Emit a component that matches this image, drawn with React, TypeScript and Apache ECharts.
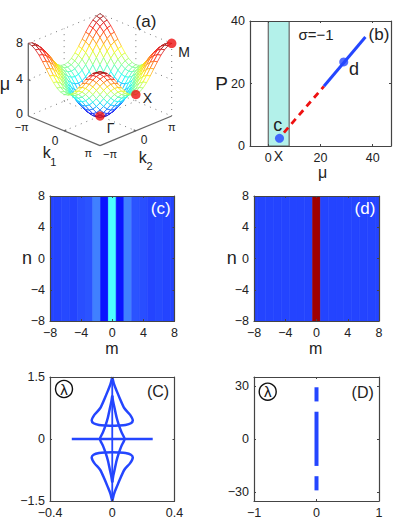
import React, { useEffect, useRef } from "react";
import * as echarts from "echarts";

const FONT = "Liberation Sans";
const AXIS = "#444444";
const TEXT = "#222222";
const BLUE = "#2446ff";

// (a) surface: height along one k direction from -pi to pi; surface height = row + column
const kProfile = [4, 3.9, 3.62, 3.18, 2.62, 2, 1.38, 0.82, 0.38, 0.1, 0, 0.1, 0.38, 0.82, 1.38, 2, 2.62, 3.18, 3.62, 3.9, 4];
// red points: k1/pi, k2/pi, mu
const pointGamma = [0, 0, 0];
const pointX = [1, 0, 4];
const pointM = [1, 1, 8];

// (b)
const bandRange = [0, 8];
const unstable = [[6, 4.3], [21.3, 19.1]];
const stable = [[21.3, 19.1], [37.2, 34.9]];
const pointC = [4.3, 2.45];
const pointD = [28.9, 26.9];

// (c), (d) amplitude per column m
const mValues = [-8, -7, -6, -5, -4, -3, -2, -1, 0, 1, 2, 3, 4, 5, 6, 7, 8];
const cAmplitude = [0.08, 0.08, 0.09, 0.08, 0.1, 0.11, 0.2, 0, 0.5, 0, 0.2, 0.11, 0.1, 0.08, 0.09, 0.08, 0.08];
const dAmplitude = [0.08, 0.08, 0.08, 0.08, 0.08, 0.08, 0.08, 0.08, 1, 0.08, 0.08, 0.08, 0.08, 0.08, 0.08, 0.08, 0.08];
const ampStops: [number, number[]][] = [
  [0, [10, 20, 255]], [0.08, [36, 68, 255]], [0.2, [64, 128, 255]], [0.5, [77, 255, 255]],
  [0.625, [255, 255, 0]], [0.8, [255, 0, 0]], [1, [160, 0, 0]],
];

// (C) spectrum, first quadrant branches [re, im]
const outerBranch = [[0, 1.5], [0.012, 1.32], [0.031, 1.14], [0.05, 0.97], [0.078, 0.744], [0.115, 0.583], [0.132, 0.446], [0.12, 0.38], [0.085, 0.34], [0.04, 0.326], [0, 0.32]];
const innerBranch = [[0, 1.05], [0.006, 0.9], [0.015, 0.744], [0.028, 0.52], [0.042, 0.343], [0.06, 0.16], [0.08, 0]];
const realLine = [[-0.26, 0], [0.26, 0]];
const imagLine = [[0, -1.5], [0, 1.5]];

// (D) spectrum segments on the imaginary axis
const dSegments = [[[0, 29.2], [0, 21.2]], [[0, 15.4], [0, -15.2]], [[0, -21], [0, -29]]];

const jet = (t: number) => {
  const c = (v: number) => Math.round(255 * Math.max(0, Math.min(1, v)));
  return `rgb(${c(1.5 - Math.abs(4 * t - 3))},${c(1.5 - Math.abs(4 * t - 2))},${c(1.5 - Math.abs(4 * t - 1))})`;
};
const ampColor = (a: number) => {
  for (let i = 1; i < ampStops.length; i++) {
    const [t0, c0] = ampStops[i - 1];
    const [t1, c1] = ampStops[i];
    if (a <= t1) {
      const f = (a - t0) / (t1 - t0);
      return `rgb(${c0.map((x, k) => Math.round(x + (c1[k] - x) * f)).join(",")})`;
    }
  }
  return "#a00000";
};

const minus = (v: number) => String(v).replace("-", "−");

// oblique view of panel (a): u along k1, v along k2
const SKEW = 3.267;
const proj = (u: number, v: number, mu: number) => [u + v, mu + (v - u) * SKEW];
const fromK = (p: number[]) => proj((p[0] + 1) / 2, (p[1] + 1) / 2, p[2]);

const N = kProfile.length - 1;
const cells: number[][] = [];
for (let i = 0; i < N; i++) for (let j = 0; j < N; j++) cells.push([i, j]);
cells.sort((a, b) => a[0] - a[1] - (b[0] - b[1]));

// frame of panel (a): [u0,v0,mu0,u1,v1,mu1]
const frameDotted = [
  [0, 0, 0, 0, 1, 0], [0, 1, 0, 1, 1, 0], [0, 1, 0, 0, 1, 8], [1, 1, 0, 1, 1, 8],
  [0, 0, 8, 0, 1, 8], [0, 1, 8, 1, 1, 8], [0, 0, 4, 0, 1, 4], [0, 1, 4, 1, 1, 4],
  [0.5, 0, 0, 0.5, 1, 0], [0, 0.5, 0, 1, 0.5, 0], [0, 0.5, 0, 0, 0.5, 8], [0.5, 1, 0, 0.5, 1, 8],
];
const frameSolid = [
  [0, 0, 0, 1, 0, 0], [1, 0, 0, 1, 1, 0], [0, 0, 0, 0, 0, 8],
  [0.5, 0, 0, 0.5, 0.03, 0], [1, 0.5, 0, 0.97, 0.5, 0], [0, 0, 4, 0.03, 0, 4],
];

const segmentSeries = (data: number[][], stroke: string, width: number, dash: number[] | null) => ({
  type: "custom",
  xAxisIndex: 0,
  yAxisIndex: 0,
  z: 1,
  clip: false,
  silent: true,
  data,
  renderItem: (_: any, api: any) => {
    const a = api.coord(proj(api.value(0), api.value(1), api.value(2)));
    const b = api.coord(proj(api.value(3), api.value(4), api.value(5)));
    return {
      type: "line",
      shape: { x1: a[0], y1: a[1], x2: b[0], y2: b[1] },
      style: { stroke, lineWidth: width, lineDash: dash || undefined, fill: null },
    };
  },
});

type Panel = { left: number; top: number; width: number; height: number; xr: number[]; yr: number[]; xt: number[]; yt: number[] };
const panels: Panel[] = [
  { left: 250, top: 21, width: 141, height: 125, xr: [-7, 47], yr: [0, 40], xt: [0, 20, 40], yt: [0, 20, 40] },
  { left: 50, top: 196, width: 124.5, height: 125, xr: [-8, 8], yr: [-8, 8], xt: [-8, -4, 0, 4, 8], yt: [-8, -4, 0, 4, 8] },
  { left: 254, top: 196, width: 125, height: 125, xr: [-8, 8], yr: [-8, 8], xt: [-8, -4, 0, 4, 8], yt: [-8, -4, 0, 4, 8] },
  { left: 50, top: 377, width: 124.5, height: 125, xr: [-0.4, 0.4], yr: [-1.5, 1.5], xt: [-0.4, 0, 0.4], yt: [-1.5, 0, 1.5] },
  { left: 254, top: 377, width: 125, height: 125, xr: [-1, 1], yr: [-35, 35], xt: [-1, 0, 1], yt: [-30, 0, 30] },
];

const axisBase = (gridIndex: number, range: number[], ticks: number[], position: string, labelled: boolean) => ({
  type: "value",
  gridIndex,
  position,
  min: range[0],
  max: range[1],
  z: 10,
  splitLine: { show: false },
  axisLine: { show: true, onZero: false, lineStyle: { color: AXIS, width: 1.2 } },
  axisTick: { show: true, inside: true, length: 2, customValues: ticks, lineStyle: { color: AXIS, width: 1 } },
  axisLabel: labelled
    ? { show: true, customValues: ticks, fontFamily: FONT, fontSize: 12.5, color: TEXT, margin: 5, formatter: minus, hideOverlap: false }
    : { show: false },
});

const xAxes: any[] = [{ type: "value", gridIndex: 0, min: 0, max: 2, show: false }];
const yAxes: any[] = [{ type: "value", gridIndex: 0, min: -SKEW, max: 8 + SKEW, show: false }];
const grids: any[] = [{ left: 28.3, top: 13.67, width: 143.4, height: 132 }];
// axis index of the labelled axes of each panel
const axisOf = panels.map((p, i) => {
  const g = i + 1;
  grids.push({ left: p.left, top: p.top, width: p.width, height: p.height });
  const xi = xAxes.length;
  const yi = yAxes.length;
  xAxes.push(axisBase(g, p.xr, p.xt, "bottom", true), axisBase(g, p.xr, p.xt, "top", false));
  yAxes.push(axisBase(g, p.yr, p.yt, "left", true), axisBase(g, p.yr, p.yt, "right", false));
  return { xAxisIndex: xi, yAxisIndex: yi };
});

const columnSeries = (panelIndex: number, amp: number[]) => ({
  type: "custom",
  ...axisOf[panelIndex],
  clip: true,
  silent: true,
  z: 1,
  data: mValues.map((m, i) => [m, amp[i]]),
  renderItem: (_: any, api: any) => {
    const m = api.value(0);
    const a = api.coord([m - 0.5, 8]);
    const b = api.coord([m + 0.5, -8]);
    const fill = ampColor(api.value(1));
    return { type: "rect", shape: { x: a[0], y: a[1], width: b[0] - a[0], height: b[1] - a[1] }, style: { fill, stroke: fill, lineWidth: 0.6 } };
  },
});

const lineSeries = (panelIndex: number, data: number[][], color: string, width: number, smooth: number | boolean = false, dash?: number[]) => ({
  type: "line",
  ...axisOf[panelIndex],
  data,
  smooth,
  showSymbol: false,
  symbol: "none",
  silent: true,
  clip: true,
  z: 3,
  lineStyle: { color, width, type: dash || "solid", cap: "butt" },
});

const mirrorX = (pts: number[][]) => pts.map(([x, y]) => [-x, y]);
const mirrorY = (pts: number[][]) => pts.map(([x, y]) => [x, -y]);
const topLoop = [...outerBranch, ...mirrorX(outerBranch).reverse()];
const rightArc = [...innerBranch, ...mirrorY(innerBranch).reverse()];

const txt = (text: string, x: number, y: number, fontSize: number, fill = TEXT) => ({
  type: "text",
  z: 20,
  silent: true,
  style: { text, x, y, fontSize, fontFamily: FONT, fill, align: "center", verticalAlign: "middle", textAlign: "center", textVerticalAlign: "middle" },
});
const lambda = (x: number, y: number) => [
  { type: "circle", z: 20, silent: true, shape: { cx: x, cy: y, r: 8.5 }, style: { fill: "none", stroke: "#111", lineWidth: 1.4 } },
  txt("λ", x, y, 15, "#111"),
];

const graphics = [
  txt("(a)", 146, 21, 17), txt("M", 184, 52, 14), txt("X", 147.5, 98, 14), txt("Γ", 110.5, 128, 14),
  txt("μ", 5, 84, 18), txt("8", 19.5, 43, 12.5), txt("4", 19.5, 79, 12.5), txt("0", 19.5, 114, 12.5),
  txt("−π", 21.7, 127, 11), txt("0", 55, 141, 12), txt("π", 88.3, 152.7, 11),
  txt("−π", 110, 154, 11), txt("0", 144, 140, 12), txt("π", 171.7, 127, 11),
  txt("k", 46.7, 152, 16), txt("1", 53.3, 161.5, 11), txt("k", 142.7, 157.5, 16), txt("2", 149.5, 166, 11),
  txt("(b)", 379, 34, 17), txt("σ=−1", 316, 34, 15), txt("c", 277.7, 125, 18), txt("d", 354, 69, 18),
  txt("X", 278.5, 156, 14), txt("P", 221.7, 83, 19), txt("μ", 322.5, 172, 16),
  txt("(c)", 160.7, 208.5, 17, "#ffffff"), txt("n", 27, 258, 18), txt("m", 112, 348, 16),
  txt("(d)", 365, 208.5, 17, "#ffffff"), txt("n", 231.7, 258, 18), txt("m", 315.7, 348, 16),
  ...lambda(64, 389), txt("(C)", 158, 391, 16),
  ...lambda(267.7, 391.7), txt("(D)", 362.7, 392.6, 16),
];

const option: any = {
  animation: false,
  backgroundColor: "#ffffff",
  grid: grids,
  xAxis: xAxes,
  yAxis: yAxes,
  graphic: graphics,
  series: [
    segmentSeries(frameDotted, "#777777", 1, [1, 5]),
    {
      type: "custom",
      xAxisIndex: 0,
      yAxisIndex: 0,
      clip: false,
      silent: true,
      z: 2,
      data: cells,
      renderItem: (_: any, api: any) => {
        const i = api.value(0);
        const j = api.value(1);
        const corners = [[i, j], [i + 1, j], [i + 1, j + 1], [i, j + 1]];
        const heights = corners.map(([a, b]) => kProfile[a] + kProfile[b]);
        const points = corners.map(([a, b], n) => api.coord(proj(a / N, b / N, heights[n])));
        const mean = heights.reduce((s, h) => s + h, 0) / 4;
        return { type: "polygon", shape: { points }, style: { fill: "#ffffff", stroke: jet(mean / 8), lineWidth: 0.7 } };
      },
    },
    { ...segmentSeries(frameSolid, "#666666", 1.3, null), z: 3 },
    {
      type: "scatter",
      xAxisIndex: 0,
      yAxisIndex: 0,
      clip: false,
      silent: true,
      z: 5,
      symbolSize: 9.5,
      itemStyle: { color: "#ee1111" },
      data: [pointGamma, pointX, pointM].map(fromK),
    },
    {
      type: "custom",
      ...axisOf[0],
      clip: true,
      silent: true,
      z: 1,
      data: [bandRange],
      renderItem: (_: any, api: any) => {
        const a = api.coord([api.value(0), panels[0].yr[1]]);
        const b = api.coord([api.value(1), panels[0].yr[0]]);
        return {
          type: "rect",
          shape: { x: a[0], y: a[1], width: b[0] - a[0], height: b[1] - a[1] },
          style: { fill: "#b3f1ea", stroke: "#666666", lineWidth: 1.2 },
        };
      },
    },
    lineSeries(0, unstable, "#ee1111", 2.8, false, [6.5, 5]),
    lineSeries(0, stable, BLUE, 3),
    {
      type: "scatter",
      ...axisOf[0],
      silent: true,
      z: 5,
      symbolSize: 9,
      itemStyle: { color: BLUE },
      data: [pointC, pointD],
    },
    columnSeries(1, cAmplitude),
    columnSeries(2, dAmplitude),
    lineSeries(3, topLoop, BLUE, 2.5, 0.25),
    lineSeries(3, mirrorY(topLoop), BLUE, 2.5, 0.25),
    lineSeries(3, rightArc, BLUE, 2.5, 0.15),
    lineSeries(3, mirrorX(rightArc), BLUE, 2.5, 0.15),
    lineSeries(3, realLine, BLUE, 2.5),
    lineSeries(3, imagLine, BLUE, 1.8),
    ...dSegments.map((s) => lineSeries(4, s, BLUE, 4)),
  ],
};

export default function App() {
  const ref = useRef<HTMLDivElement>(null);
  useEffect(() => {
    const chart = echarts.init(ref.current!, undefined, { renderer: "svg" });
    chart.setOption(option);
    return () => chart.dispose();
  }, []);
  return <div ref={ref} style={{ position: "absolute", left: 0, top: 0, width: 399, height: 519 }} />;
}
